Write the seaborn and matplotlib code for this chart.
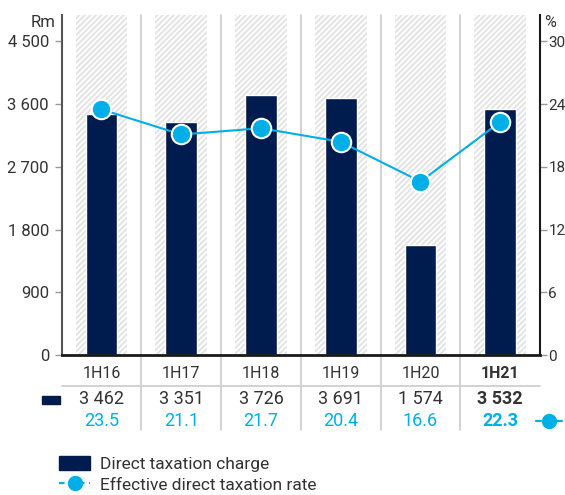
import matplotlib
matplotlib.use("Agg")
import matplotlib.pyplot as plt
import matplotlib.transforms as mtransforms
from matplotlib.patches import Patch
from matplotlib.lines import Line2D
import seaborn as sns
import pandas as pd

# Half-year periods and values
periods = ["1H16", "1H17", "1H18", "1H19", "1H20", "1H21"]
tax_charge = [3462, 3351, 3726, 3691, 1574, 3532]
tax_rate = [23.5, 21.1, 21.7, 20.4, 16.6, 22.3]
charge_labels = ["3 462", "3 351", "3 726", "3 691", "1 574", "3 532"]
rate_labels = ["23.5", "21.1", "21.7", "20.4", "16.6", "22.3"]
left_ticks = [0, 900, 1800, 2700, 3600, 4500]
left_tick_labels = ["0", "900", "1 800", "2 700", "3 600", "4 500"]
right_ticks = [0, 6, 12, 18, 24, 30]

NAVY = "#001b4d"
CYAN = "#00afe8"
TEXT = "#333333"
SEP = "#cfcfcf"

sns.set_style("white")
plt.rcParams["font.family"] = ["Roboto", "DejaVu Sans"]
plt.rcParams["hatch.color"] = "#e4e4e4"
plt.rcParams["hatch.linewidth"] = 1.5

df = pd.DataFrame({"period": periods, "charge": tax_charge, "rate": tax_rate})

fig = plt.figure(figsize=(5.65, 4.95), dpi=100)
ax = fig.add_axes([0.1090, 0.2828, 0.8469, 0.6869])

YMAX = 4880
ax.set_ylim(0, YMAX)
ax.set_xlim(-0.5, len(periods) - 0.5)

# hatched background columns
xs = list(range(len(periods)))
ax.bar(xs, [YMAX] * len(periods), width=0.65, color="white",
       hatch="//////", edgecolor="#e4e4e4", linewidth=0, zorder=0)

# separators between periods, extending down into the table
sep_tr = mtransforms.blended_transform_factory(ax.transData, ax.transAxes)
for i in range(1, len(periods)):
    ax.add_line(Line2D([i - 0.5, i - 0.5], [-0.222, 1.0], transform=sep_tr,
                       color=SEP, lw=1.3, clip_on=False, zorder=1))

sns.barplot(data=df, x="period", y="charge", color=NAVY, width=0.4,
            saturation=1, ax=ax, zorder=3)
ax.set_xlim(-0.5, len(periods) - 0.5)
ax.set_ylim(0, YMAX)

ax2 = ax.twinx()
ax2.set_ylim(0, YMAX / 150)
sns.lineplot(data=df, x="period", y="rate", color=CYAN, lw=1.5, ax=ax2,
             marker="o", markersize=14, markerfacecolor=CYAN,
             markeredgecolor="white", markeredgewidth=1.5, zorder=5)
ax2.set_xlim(-0.5, len(periods) - 0.5)

# axes styling
ax.set_yticks(left_ticks)
ax.set_yticklabels(left_tick_labels)
ax.set_xticks([])
ax.set_xlabel("")
ax.set_ylabel("")
ax2.set_xlabel("")
ax2.set_ylabel("")
ax2.set_yticks(right_ticks)
ax2.set_yticklabels([str(t) for t in right_ticks])
ax.tick_params(axis="y", length=5, width=1, color="#999999",
               labelsize=12, labelcolor=TEXT, pad=4)
ax2.tick_params(axis="y", length=5, width=1, color="#999999",
                labelsize=11, labelcolor=TEXT, pad=1)
for a in (ax, ax2):
    a.spines["top"].set_visible(False)
ax.spines["right"].set_visible(False)
ax.spines["bottom"].set_visible(False)
ax2.spines["bottom"].set_color("#1a1a1a")
ax2.spines["bottom"].set_linewidth(2)
ax.spines["left"].set_color("#555555")
ax.spines["left"].set_linewidth(1.5)
ax2.spines["left"].set_visible(False)
ax2.spines["right"].set_color("#1a1a1a")
ax2.spines["right"].set_linewidth(1.5)

ax.text(-0.012, 1.0, "Rm", transform=ax.transAxes, ha="right", va="top",
        fontsize=12, color=TEXT)
ax2.text(1.008, 1.0, "%", transform=ax2.transAxes, ha="left", va="top",
         fontsize=11.5, color=TEXT)

# table under the chart
for i, p in enumerate(periods):
    bold = "bold" if i == len(periods) - 1 else "normal"
    ax.text(i, -0.053, p, transform=sep_tr, ha="center", va="center",
            fontsize=11.5, color=TEXT, fontweight=bold)
    ax.text(i, -0.13, charge_labels[i], transform=sep_tr, ha="center",
            va="center", fontsize=13, color=TEXT, fontweight=bold)
    ax.text(i, -0.194, rate_labels[i], transform=sep_tr, ha="center",
            va="center", fontsize=13, color=CYAN, fontweight=bold)
ax.add_line(Line2D([0, 1], [-0.092, -0.092], transform=ax.transAxes,
                   color=SEP, lw=1.3, clip_on=False))

# row keys beside the table
fig.patches.append(plt.Rectangle((42 / 565, 1 - 404 / 495), 18 / 565, 8 / 495,
                                 transform=fig.transFigure, color=NAVY))
ky = 1 - 421 / 495
for x0, x1 in ((536, 541), (557, 562)):
    fig.add_artist(Line2D([x0 / 565, x1 / 565], [ky, ky],
                          transform=fig.transFigure, color=CYAN, lw=1.6))
fig.add_artist(Line2D([549 / 565], [ky], transform=fig.transFigure,
                      color=CYAN, marker="o", markersize=10, ls="none"))

handles = [
    Patch(facecolor=NAVY, edgecolor=NAVY),
    Line2D([0], [0], color=CYAN, lw=1.6, ls=(0, (2.5, 2)), marker="o",
           markersize=10, markerfacecolor=CYAN, markeredgecolor=CYAN),
]
fig.legend(handles, ["Direct taxation charge", "Effective direct taxation rate"],
           loc="upper left", bbox_to_anchor=(52 / 565, 1 - 449 / 495),
           frameon=False, fontsize=12.5, handlelength=1.8, handleheight=0.9,
           labelspacing=0.25, handletextpad=0.55, labelcolor=TEXT,
           borderaxespad=0)

fig.savefig("out.png", dpi=100)
